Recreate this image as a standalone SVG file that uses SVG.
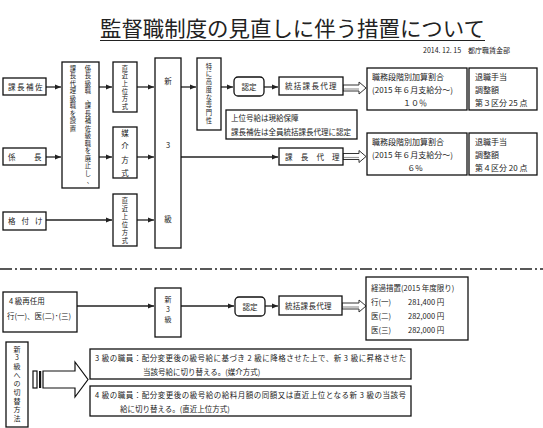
<svg xmlns="http://www.w3.org/2000/svg" width="543" height="428" viewBox="0 0 543 428">
<defs>
<marker id="a" markerUnits="userSpaceOnUse" markerWidth="6" markerHeight="6" refX="6" refY="3" orient="auto"><path d="M0,0.5 L6,3 L0,5.5 z" fill="#222"/></marker>
<style>
.b{fill:#fff;stroke:#111;stroke-width:1.3}
.t{font-family:"Noto Sans CJK JP","Noto Sans CJK SC",sans-serif;fill:#222;font-size:7.5px}
.m{text-anchor:middle}
.vs{font-size:6.3px}
.c{stroke:#222;stroke-width:1.3;fill:none;marker-end:url(#a)}
.h{fill:#fff;stroke:#333;stroke-width:1}
</style>
</defs>
<rect width="543" height="428" fill="#fff"/>
<g id="title">
<text class="t" x="100" y="36" style="font-size:21px" textLength="385" lengthAdjust="spacingAndGlyphs">監督職制度の見直しに伴う措置について</text>
<line x1="100" y1="40.5" x2="485" y2="40.5" stroke="#222" stroke-width="1"/>
<text class="t" x="423" y="53" style="font-size:7px">2014. 12. 15　都庁職賃金部</text>
</g>
<g id="connectors">
<line class="c" x1="46" y1="87" x2="61" y2="87"/>
<line class="c" x1="46" y1="157" x2="61" y2="157"/>
<line class="c" x1="99" y1="87" x2="112" y2="87"/>
<line class="c" x1="99" y1="157" x2="112" y2="157"/>
<line class="c" x1="46" y1="220" x2="112" y2="220"/>
<line class="c" x1="137" y1="87" x2="154" y2="87"/>
<line class="c" x1="137" y1="157" x2="154" y2="157"/>
<line class="c" x1="137" y1="220" x2="154" y2="220"/>
<line class="c" x1="181" y1="87" x2="196" y2="87"/>
<line class="c" x1="221" y1="87" x2="233" y2="87"/>
<line class="c" x1="264" y1="87" x2="278" y2="87"/>
<line class="c" x1="181" y1="157" x2="278" y2="157"/>
<path class="h" d="M343,85 H359 V82 L366,88 L359,94 V91 H343 Z"/>
<line x1="343" y1="89" x2="359" y2="89" stroke="#999" stroke-width="1.2"/>
<path class="h" d="M343,153.5 H359 V150.5 L366,156.5 L359,162.5 V159.5 H343 Z"/>
<line x1="343" y1="157.5" x2="359" y2="157.5" stroke="#999" stroke-width="1.2"/>
<line x1="0" y1="269" x2="543" y2="269" stroke="#222" stroke-width="1.3" stroke-dasharray="12 3 2 3"/>
<line class="c" x1="77" y1="306" x2="154" y2="306"/>
<line class="c" x1="181" y1="306" x2="234" y2="306"/>
<line class="c" x1="265" y1="306" x2="278" y2="306"/>
<path class="h" d="M342,303 H359 V300 L366,306 L359,312 V309 H342 Z"/>
<line x1="342" y1="307" x2="359" y2="307" stroke="#999" stroke-width="1.2"/>
<rect x="33" y="371" width="4" height="17" fill="#fff" stroke="#111" stroke-width="1.2"/>
<rect x="39" y="371" width="2.2" height="17" fill="#111"/>
<path d="M43,371 H75 V362 L88,379.5 L75,397 V388 H43 Z" fill="#fff" stroke="#111" stroke-width="1.2"/>
</g>
<g id="n-kachohosa"><rect class="b" x="3" y="78" width="43" height="17"/><text class="t" x="8" y="89.5" letter-spacing="1.5">課長補佐</text></g>
<g id="n-kakaricho"><rect class="b" x="3" y="148" width="43" height="17"/><text class="t" x="8" y="159.5">係</text><text class="t" x="34" y="159.5">長</text></g>
<g id="n-kakuzuke"><rect class="b" x="3" y="212" width="43" height="18"/><text class="t" x="8" y="224" letter-spacing="6">格付け</text></g>
<g id="n-soshiki"><rect class="b" x="62" y="62" width="37" height="126"/>
<text class="t m vs"><tspan x="88" y="70.5">係</tspan><tspan x="88" y="78">長</tspan><tspan x="88" y="85.5">級</tspan><tspan x="88" y="93">職</tspan><tspan x="90" y="100.5">、</tspan><tspan x="88" y="108">課</tspan><tspan x="88" y="115.5">長</tspan><tspan x="88" y="123">補</tspan><tspan x="88" y="130.5">佐</tspan><tspan x="88" y="138">級</tspan><tspan x="88" y="145.5">職</tspan><tspan x="88" y="153">を</tspan><tspan x="88" y="160.5">廃</tspan><tspan x="88" y="168">止</tspan><tspan x="88" y="175.5">し</tspan><tspan x="90" y="183">、</tspan></text>
<text class="t m vs"><tspan x="73" y="70.5">課</tspan><tspan x="73" y="78">長</tspan><tspan x="73" y="85.5">代</tspan><tspan x="73" y="93">理</tspan><tspan x="73" y="100.5">級</tspan><tspan x="73" y="108">職</tspan><tspan x="73" y="115.5">を</tspan><tspan x="73" y="123">設</tspan><tspan x="73" y="130.5">置</tspan></text></g>
<g id="n-chokkin1"><rect class="b" x="113" y="62" width="24" height="50"/><text class="t m vs"><tspan x="125" y="70.5">直</tspan><tspan x="125" y="78.2">近</tspan><tspan x="125" y="85.9">上</tspan><tspan x="125" y="93.6">位</tspan><tspan x="125" y="101.3">方</tspan><tspan x="125" y="109">式</tspan></text></g>
<g id="n-baikai"><rect class="b" x="113" y="127" width="24" height="51"/><text class="t m"><tspan x="125" y="135.5">媒</tspan><tspan x="125" y="149">介</tspan><tspan x="125" y="162.5">方</tspan><tspan x="125" y="176">式</tspan></text></g>
<g id="n-chokkin2"><rect class="b" x="113" y="194" width="24" height="52"/><text class="t m vs"><tspan x="125" y="202.5">直</tspan><tspan x="125" y="210.5">近</tspan><tspan x="125" y="218.5">上</tspan><tspan x="125" y="226.5">位</tspan><tspan x="125" y="234.5">方</tspan><tspan x="125" y="242.5">式</tspan></text></g>
<g id="n-shin3"><rect class="b" x="155" y="58" width="26" height="190"/><text class="t m" x="168" y="84">新</text><text class="t m" x="168" y="148">3</text><text class="t m" x="168" y="222">級</text></g>
<g id="n-senmon"><rect class="b" x="197" y="58" width="24" height="72"/><text class="t m vs"><tspan x="209" y="68.5">特</tspan><tspan x="209" y="76.3">に</tspan><tspan x="209" y="84">高</tspan><tspan x="209" y="91.8">度</tspan><tspan x="209" y="99.5">な</tspan><tspan x="209" y="107.3">専</tspan><tspan x="209" y="115">門</tspan><tspan x="209" y="122.8">性</tspan></text></g>
<g id="n-nintei1"><rect class="b" x="234" y="77" width="30" height="19" rx="4"/><text class="t m" x="249" y="89.5">認定</text></g>
<g id="n-tokatsu1"><rect class="b" x="279" y="77" width="64" height="18"/><text class="t" x="285" y="89" letter-spacing="1.3">統括課長代理</text></g>
<g id="n-note"><rect class="b" x="226" y="110" width="131" height="29"/><text class="t" x="231" y="121">上位号給は現給保障</text><text class="t" x="231" y="135">課長補佐は全員統括課長代理に認定</text></g>
<g id="n-kachodairi"><rect class="b" x="279" y="148" width="64" height="17"/><text class="t" x="285" y="160" letter-spacing="8.2">課長代理</text></g>
<g id="n-rate1"><rect class="b" x="367" y="68" width="100" height="42"/><text class="t" x="372" y="80" style="font-size:8px">職務段階別加算割合</text><text class="t" x="372" y="93" style="font-size:8px">(2015 年６月支給分～)</text><text class="t m" x="415" y="106" style="font-size:8px">１０％</text></g>
<g id="n-taishoku1"><rect class="b" x="469" y="68" width="68" height="42"/><text class="t" x="475" y="80" style="font-size:8px">退職手当</text><text class="t" x="475" y="93" style="font-size:8px">調整額</text><text class="t" x="475" y="106" style="font-size:8px">第３区分 25 点</text></g>
<g id="n-rate2"><rect class="b" x="367" y="133" width="100" height="42"/><text class="t" x="372" y="145" style="font-size:8px">職務段階別加算割合</text><text class="t" x="372" y="158" style="font-size:8px">(2015 年６月支給分～)</text><text class="t m" x="415" y="171" style="font-size:8px">６%</text></g>
<g id="n-taishoku2"><rect class="b" x="469" y="133" width="68" height="42"/><text class="t" x="475" y="145" style="font-size:8px">退職手当</text><text class="t" x="475" y="158" style="font-size:8px">調整額</text><text class="t" x="475" y="171" style="font-size:8px">第４区分 20 点</text></g>
<g id="n-saininyo"><rect class="b" x="3" y="292" width="74" height="40"/><text class="t" x="9" y="304">4 級再任用</text><text class="t" x="7" y="319">行(一)、医(二)･(三)</text></g>
<g id="n-shin3b"><rect class="b" x="155" y="288" width="26" height="49"/><text class="t m" style="font-size:7px"><tspan x="168" y="302">新</tspan><tspan x="168" y="312">3</tspan><tspan x="168" y="322">級</tspan></text></g>
<g id="n-nintei2"><rect class="b" x="235" y="297" width="30" height="19" rx="4"/><text class="t m" x="250" y="309.5">認定</text></g>
<g id="n-tokatsu2"><rect class="b" x="279" y="296" width="63" height="19"/><text class="t" x="285" y="308.5" letter-spacing="0.3">統括課長代理</text></g>
<g id="n-keika"><rect class="b" x="366" y="277" width="102" height="63"/><text class="t" x="371" y="291">経過措置(2015 年度限り)</text><text class="t" x="371" y="305">行(一)</text><text class="t" x="408" y="305">281,400 円</text><text class="t" x="371" y="319">医(二)</text><text class="t" x="408" y="319">282,000 円</text><text class="t" x="371" y="333">医(三)</text><text class="t" x="408" y="333">282,000 円</text></g>
<g id="n-kirikae"><rect class="b" x="6" y="342" width="22" height="85"/><text class="t m" style="font-size:7px"><tspan x="17" y="351.5">新</tspan><tspan x="17" y="360.2">3</tspan><tspan x="17" y="368.9">級</tspan><tspan x="17" y="377.6">へ</tspan><tspan x="17" y="386.3">の</tspan><tspan x="17" y="395">切</tspan><tspan x="17" y="403.7">替</tspan><tspan x="17" y="412.4">方</tspan><tspan x="17" y="421.1">法</tspan></text></g>
<g id="n-text1"><rect class="b" x="90" y="349" width="321" height="30"/><text class="t" x="95" y="361" textLength="311" lengthAdjust="spacing">3 級の職員：配分変更後の級号給に基づき 2 級に降格させた上で、新 3 級に昇格させた</text><text class="t" x="143" y="375">当該号給に切り替える。(媒介方式)</text></g>
<g id="n-text2"><rect class="b" x="90" y="386" width="321" height="30"/><text class="t" x="95" y="398" textLength="311" lengthAdjust="spacing">4 級の職員：配分変更後の級号給の給料月額の同額又は直近上位となる新 3 級の当該号</text><text class="t" x="120" y="412">給に切り替える。(直近上位方式)</text></g>
</svg>
